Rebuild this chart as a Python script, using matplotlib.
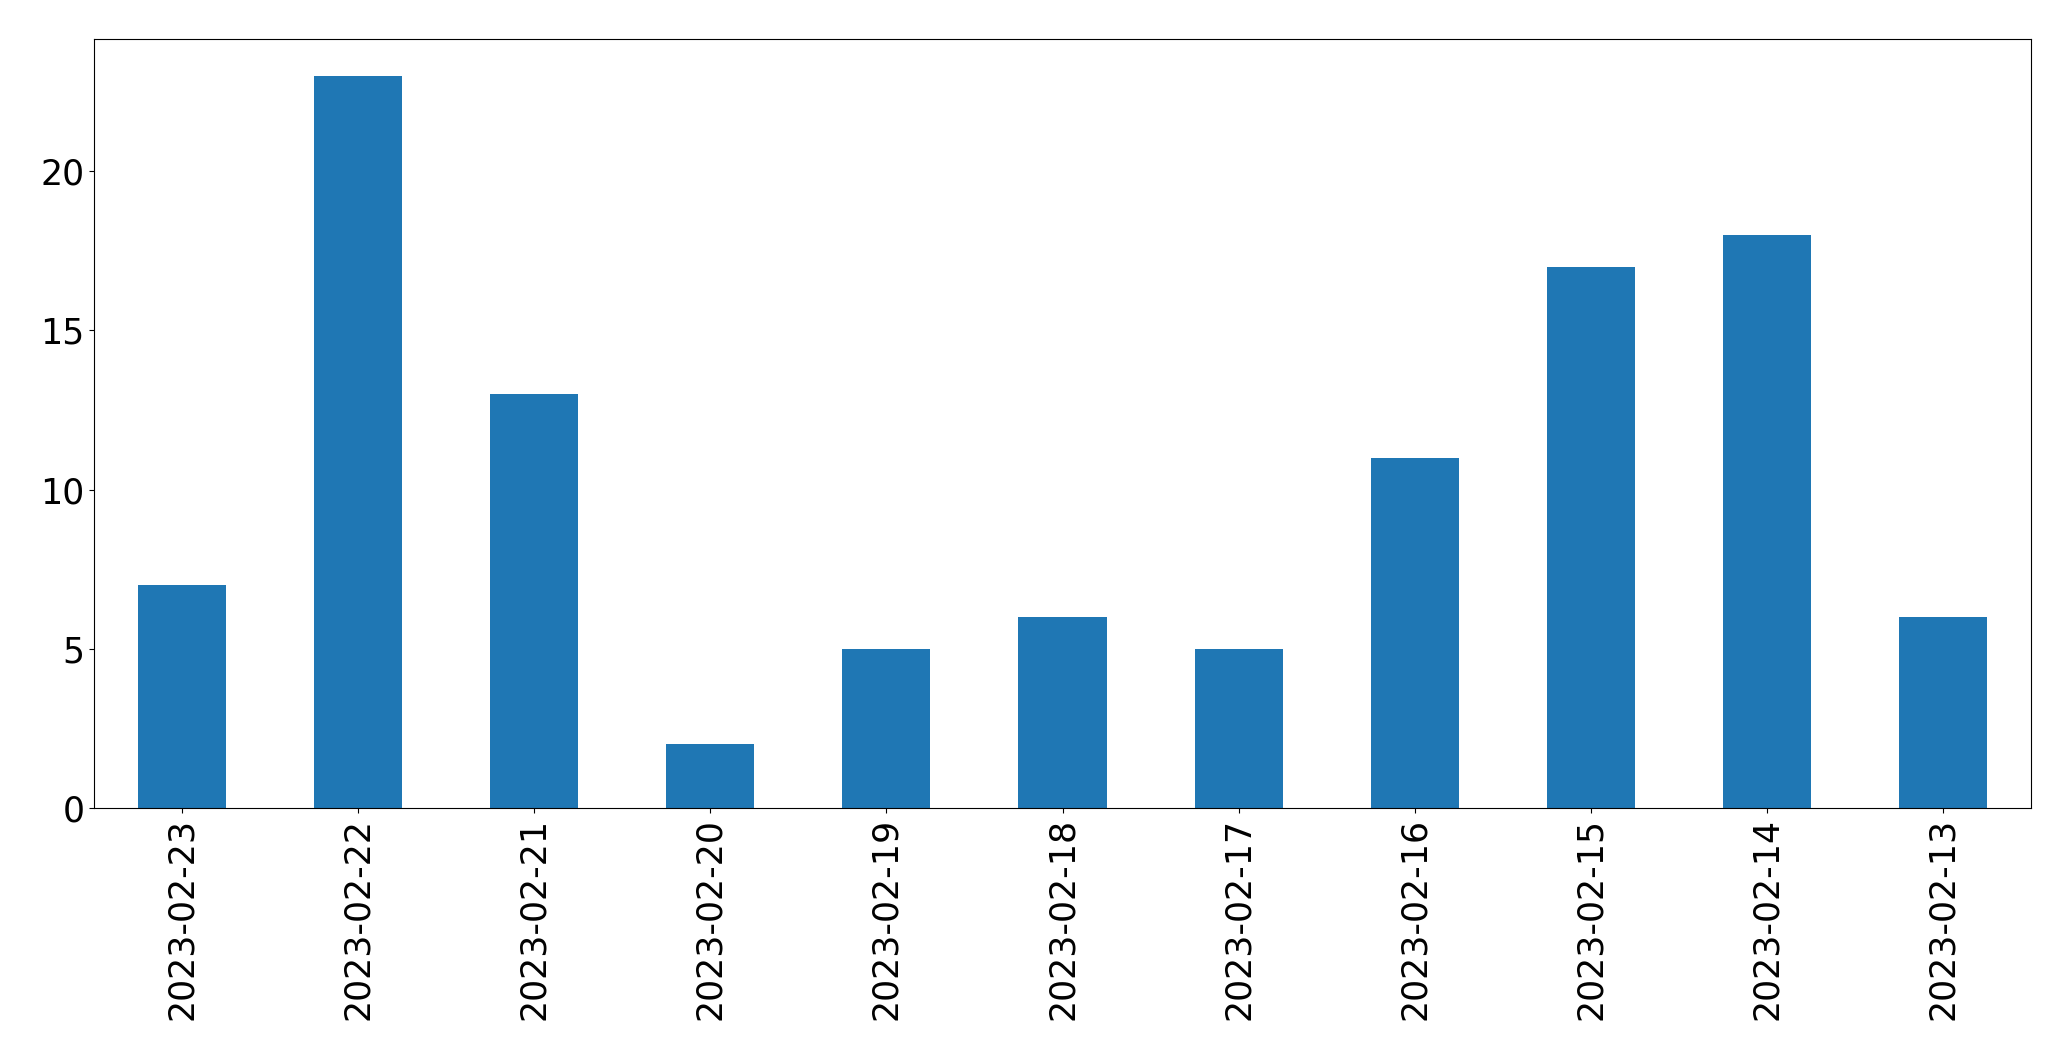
import matplotlib
matplotlib.use("Agg")
import matplotlib.pyplot as plt
import numpy as np

dates = ['2023-02-23', '2023-02-22', '2023-02-21', '2023-02-20', '2023-02-19',
         '2023-02-18', '2023-02-17', '2023-02-16', '2023-02-15', '2023-02-14',
         '2023-02-13']
counts = [7, 23, 13, 2, 5, 6, 5, 11, 17, 18, 6]

fig = plt.figure(figsize=(20.71, 10.61), dpi=100)
ax = fig.add_axes([94 / 2071, 1 - 808 / 1061, (2031 - 94) / 2071, (808 - 39) / 1061])
x = np.arange(len(dates))
ax.bar(x, counts, width=0.5, color='#1f77b4')
ax.set_xlim(-0.5, len(dates) - 0.5)
ax.set_xticks(x)
ax.set_xticklabels(dates, rotation=90, fontsize=25)
ax.tick_params(axis='y', labelsize=25)
ax.set_yticks([0, 5, 10, 15, 20])
fig.savefig("out.png", dpi=100)
